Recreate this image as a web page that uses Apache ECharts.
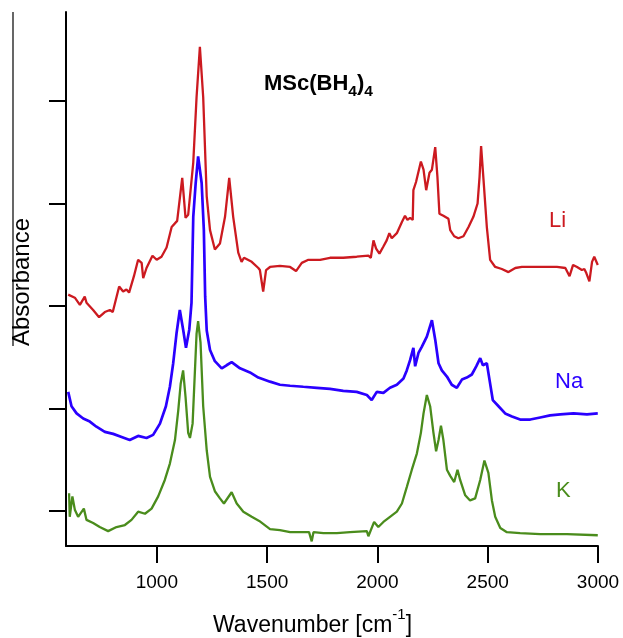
<!DOCTYPE html>
<html>
<head>
<meta charset="utf-8">
<script src="https://cdn.jsdelivr.net/npm/echarts@6/dist/echarts.min.js"></script>
<style>
  html, body { margin: 0; padding: 0; background: #fff; }
  #chart { width: 623px; height: 638px; }
</style>
</head>
<body>
<div id="chart"></div>
<script>
// spectra: [wavenumber cm-1, absorbance (offset, a.u.)]
var liData = [[598,2.11],[628,2.08],[651,2.01],[673,2.09],[681,2.03],[711,1.96],[738,1.89],[764,1.94],[787,1.96],[800,1.94],
  [829,2.19],[847,2.14],[862,2.16],[874,2.13],[896,2.29],[915,2.45],[931,2.42],[938,2.27],[953,2.37],[980,2.49],[999,2.45],
  [1021,2.48],[1044,2.57],[1067,2.77],[1092,2.83],[1115,3.25],[1130,2.86],[1142,2.89],[1165,3.40],[1180,4.04],[1195,4.53],
  [1210,4.04],[1226,3.07],[1241,2.74],[1263,2.55],[1286,2.61],[1309,2.87],[1328,3.25],[1346,2.87],[1369,2.52],[1384,2.43],
  [1395,2.47],[1430,2.43],[1460,2.37],[1467,2.35],[1482,2.14],[1495,2.35],[1513,2.38],[1558,2.39],[1604,2.38],[1631,2.34],
  [1657,2.42],[1687,2.45],[1740,2.45],[1785,2.47],[1845,2.47],[1906,2.48],[1959,2.49],[1970,2.47],[1982,2.64],[1994,2.56],
  [2009,2.51],[2027,2.58],[2042,2.64],[2054,2.71],[2065,2.66],[2088,2.71],[2111,2.82],[2125,2.88],[2136,2.84],[2148,2.86],
  [2160,2.84],[2163,3.13],[2175,3.21],[2197,3.41],[2209,3.33],[2221,3.13],[2236,3.30],[2247,3.33],[2262,3.55],[2272,3.26],
  [2281,2.90],[2299,2.88],[2322,2.85],[2330,2.74],[2348,2.68],[2367,2.66],[2375,2.65],[2390,2.68],[2413,2.77],[2435,2.87],
  [2454,3.00],[2463,3.26],[2470,3.56],[2481,3.23],[2496,2.77],[2511,2.45],[2534,2.38],[2564,2.36],[2594,2.33],[2625,2.37],
  [2655,2.38],[2738,2.38],[2814,2.38],[2852,2.37],[2871,2.29],[2887,2.40],[2905,2.38],[2927,2.35],[2938,2.36],[2947,2.32],
  [2961,2.24],[2973,2.43],[2983,2.48],[2999,2.40]];

var naData = [[598,1.16],[613,1.02],[636,0.95],[666,0.90],[696,0.87],[726,0.82],[764,0.77],[802,0.75],[840,0.72],[877,0.69],
  [915,0.73],[953,0.71],[983,0.74],[1014,0.85],[1041,1.02],[1059,1.21],[1074,1.44],[1089,1.73],[1104,1.96],[1119,1.77],
  [1132,1.59],[1147,1.77],[1157,2.03],[1165,2.87],[1176,3.20],[1187,3.46],[1203,3.20],[1213,2.74],[1219,2.09],[1226,1.76],
  [1241,1.57],[1263,1.46],[1294,1.39],[1316,1.42],[1339,1.45],[1377,1.39],[1422,1.35],[1460,1.30],[1513,1.26],[1558,1.23],
  [1604,1.22],[1664,1.21],[1725,1.20],[1785,1.19],[1845,1.17],[1906,1.16],[1952,1.13],[1974,1.08],[1997,1.16],[2027,1.15],
  [2057,1.20],[2088,1.23],[2118,1.29],[2133,1.37],[2148,1.47],[2163,1.59],[2171,1.41],[2186,1.54],[2201,1.60],[2224,1.70],
  [2247,1.86],[2262,1.67],[2277,1.44],[2292,1.37],[2315,1.31],[2337,1.23],[2360,1.20],[2383,1.28],[2405,1.30],[2428,1.33],
  [2448,1.41],[2466,1.49],[2478,1.42],[2496,1.44],[2508,1.28],[2523,1.08],[2549,1.02],[2579,0.95],[2610,0.92],[2647,0.89],
  [2693,0.89],[2738,0.91],[2783,0.93],[2829,0.94],[2889,0.95],[2950,0.94],[2999,0.95]];

var kData = [[602,0.17],[605,-0.06],[617,0.14],[628,0.01],[643,-0.06],[669,0.02],[681,-0.09],[711,-0.12],[741,-0.16],[779,-0.20],
  [817,-0.16],[855,-0.14],[885,-0.09],[915,-0.01],[946,-0.03],[976,0.02],[1006,0.14],[1036,0.30],[1059,0.46],[1082,0.69],
  [1097,0.98],[1108,1.24],[1119,1.37],[1130,1.11],[1142,0.76],[1150,0.71],[1162,0.85],[1172,1.34],[1180,1.73],[1187,1.85],
  [1198,1.64],[1210,1.02],[1226,0.59],[1241,0.33],[1263,0.19],[1286,0.12],[1304,0.07],[1339,0.18],[1362,0.07],[1392,-0.01],
  [1430,-0.06],[1464,-0.10],[1513,-0.18],[1558,-0.19],[1604,-0.21],[1649,-0.21],[1690,-0.21],[1702,-0.30],[1710,-0.21],
  [1755,-0.22],[1816,-0.22],[1876,-0.21],[1952,-0.20],[1959,-0.25],[1985,-0.11],[2004,-0.16],[2027,-0.11],[2057,-0.06],
  [2088,-0.01],[2111,0.07],[2133,0.23],[2156,0.40],[2179,0.56],[2197,0.76],[2209,0.95],[2224,1.13],[2239,1.02],[2254,0.76],
  [2266,0.58],[2277,0.69],[2288,0.83],[2299,0.69],[2315,0.40],[2330,0.34],[2348,0.28],[2363,0.40],[2375,0.30],[2398,0.15],
  [2420,0.10],[2443,0.12],[2466,0.30],[2485,0.49],[2503,0.37],[2519,0.10],[2534,-0.06],[2557,-0.17],[2587,-0.21],[2647,-0.22],
  [2738,-0.23],[2859,-0.23],[2999,-0.24]];

var xTicks = [1000, 1500, 2000, 2500, 3000];
var yTicks = [0, 1, 2, 3, 4];

var FONT = 'Liberation Sans, Arial, sans-serif';

var chart = echarts.init(document.getElementById('chart'), null, { renderer: 'canvas' });

var option = {
  animation: false,
  backgroundColor: '#fff',
  grid: { left: 66, right: 25, top: 12, bottom: 92 },
  xAxis: {
    type: 'value',
    min: 588,
    max: 3000,
    axisLine: { onZero: false, lineStyle: { color: '#000', width: 2 } },
    axisTick: { customValues: xTicks, length: 17, lineStyle: { color: '#000', width: 2 } },
    axisLabel: {
      customValues: xTicks, margin: 27, color: '#000', fontSize: 19, fontFamily: FONT,
      formatter: function (v) { return String(v); }
    },
    splitLine: { show: false }
  },
  yAxis: {
    type: 'value',
    min: -0.345,
    max: 4.87,
    axisLine: { show: true, onZero: false, lineStyle: { color: '#000', width: 2 } },
    axisTick: { show: true, customValues: yTicks, length: 17, lineStyle: { color: '#000', width: 2 } },
    axisLabel: { show: false },
    splitLine: { show: false }
  },
  series: [
    { name: 'Li', type: 'line', data: liData, showSymbol: false, lineStyle: { color: '#cc1a20', width: 2.3 } },
    { name: 'Na', type: 'line', data: naData, showSymbol: false, lineStyle: { color: '#2a00ff', width: 2.7 } },
    { name: 'K', type: 'line', data: kData, showSymbol: false, lineStyle: { color: '#4a8c1c', width: 2.3 } }
  ],
  graphic: [
    // stray frame line left of the y title
    { type: 'line', shape: { x1: 13, y1: 12, x2: 13, y2: 346 }, style: { stroke: '#000', lineWidth: 1.2 } },
    {
      type: 'text', x: 22.5, y: 282, rotation: Math.PI / 2,
      style: { text: 'Absorbance', font: '24px ' + FONT, fill: '#000', textAlign: 'center', textVerticalAlign: 'middle' }
    },
    {
      type: 'text', x: 213, y: 607,
      style: {
        text: '{a|Wavenumber [cm}{b|-1}{a|]}',
        textAlign: 'left', textVerticalAlign: 'top', fill: '#000',
        rich: {
          a: { fontSize: 23, fontFamily: FONT, lineHeight: 23, padding: [7, 0, 0, 0], verticalAlign: 'top' },
          b: { fontSize: 15, fontFamily: FONT, lineHeight: 15, verticalAlign: 'top' }
        }
      }
    },
    {
      type: 'text', x: 264, y: 73,
      style: {
        text: '{a|MSc(BH}{b|4}{a|)}{b|4}',
        textAlign: 'left', textVerticalAlign: 'top', fill: '#000',
        rich: {
          a: { fontSize: 22, fontWeight: 'bold', fontFamily: FONT, lineHeight: 22, verticalAlign: 'top' },
          b: { fontSize: 15.5, fontWeight: 'bold', fontFamily: FONT, lineHeight: 15.5, padding: [11, 0, 0, 0], verticalAlign: 'top' }
        }
      }
    },
    { type: 'text', x: 549, y: 221, style: { text: 'Li', font: '22px ' + FONT, fill: '#cc1a20', textVerticalAlign: 'middle' } },
    { type: 'text', x: 555, y: 382, style: { text: 'Na', font: '22px ' + FONT, fill: '#2a00ff', textVerticalAlign: 'middle' } },
    { type: 'text', x: 556, y: 491, style: { text: 'K', font: '22px ' + FONT, fill: '#4a8c1c', textVerticalAlign: 'middle' } }
  ]
};

chart.setOption(option);
</script>
</body>
</html>
